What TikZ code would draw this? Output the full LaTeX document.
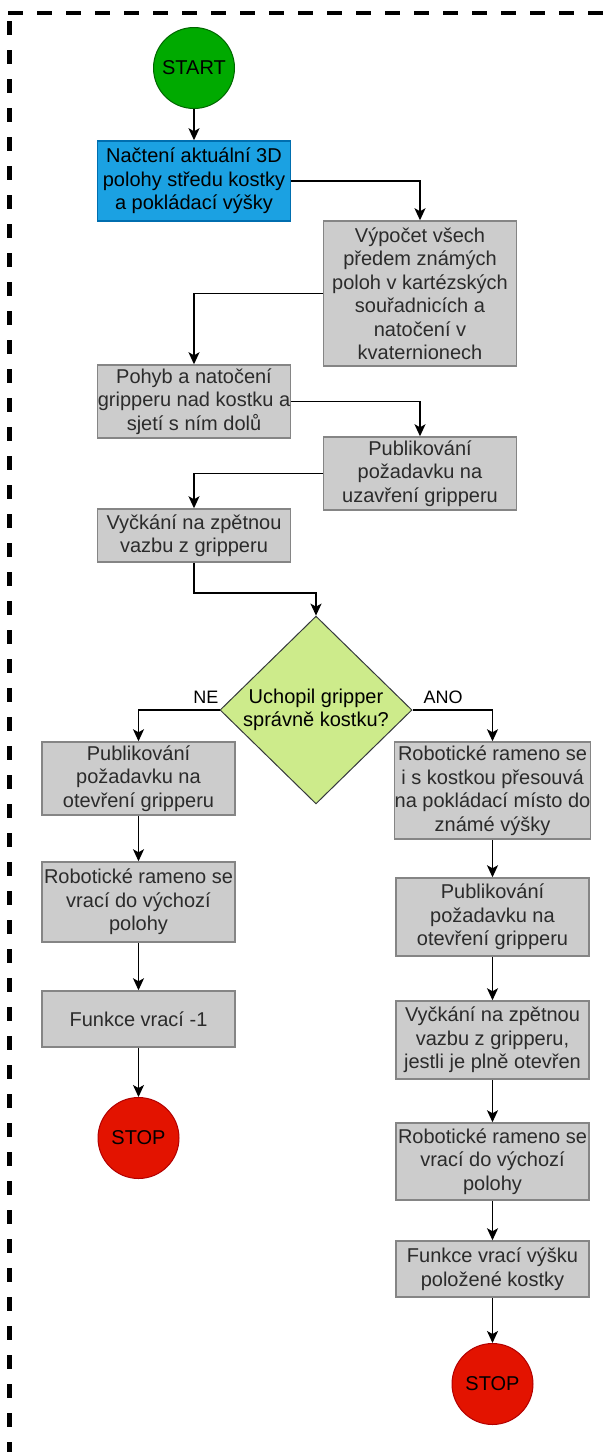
\documentclass[tikz,border=0pt]{standalone}
\usepackage{fontspec}
\setmainfont{Liberation Sans}
\usetikzlibrary{arrows.meta,shapes.geometric}
\definecolor{startgreen}{HTML}{00AA00}
\definecolor{startline}{HTML}{006600}
\definecolor{stopred}{HTML}{E31300}
\definecolor{stopline}{HTML}{B20000}
\definecolor{loadblue}{HTML}{1BA1E2}
\definecolor{loadline}{HTML}{006EAF}
\definecolor{boxgray}{HTML}{CCCCCC}
\definecolor{boxline}{HTML}{858585}
\definecolor{boxtext}{HTML}{2B2B2B}
\definecolor{askgreen}{HTML}{CDEB8B}
\definecolor{askline}{HTML}{36393D}

\begin{document}
\begin{tikzpicture}[x=1pt, y=-1pt,
    every node/.style={font=\fontsize{20}{23.5}\selectfont},
    box/.style={draw=boxline, fill=boxgray, line width=1.5pt, text=boxtext,
        align=center, minimum width=193pt, inner sep=0pt},
    term/.style={circle, line width=1pt, minimum size=81pt, inner sep=0pt},
    ask/.style={diamond, draw=askline, fill=askgreen, line width=1pt,
        align=center, minimum width=192pt, minimum height=180pt, inner sep=0pt},
    branch/.style={font=\fontsize{18}{22}\selectfont},
    flow/.style={-{Stealth[length=12pt, width=11pt, inset=3pt]}, line width=1.5pt}]
    \useasboundingbox (0,0) rectangle (607,1452);

    % Frame (dashed, cut at the top and the right)
    \draw[line width=4.5pt, dash pattern=on 15pt off 14pt] (8,13) -- (607,13);
    \draw[line width=4.5pt, dash pattern=on 14pt off 15pt] (9.5,21) -- (9.5,1452);

    % Start
    \node[term, draw=startline, fill=startgreen] (start) at (194,68) {START};

    % Upper part, two columns
    \node[box, draw=loadline, fill=loadblue, text=black, minimum height=80pt] (nacteni) at (194,181)
        {Načtení aktuální 3D\\polohy středu kostky\\a pokládací výšky};
    \node[box, minimum height=145pt] (vypocet) at (420,293.5)
        {Výpočet všech\\předem známých\\poloh v kartézských\\souřadnicích a\\natočení v\\kvaternionech};
    \node[box, minimum height=73pt] (pohyb) at (194,401.5)
        {Pohyb a natočení\\gripperu nad kostku a\\sjetí s ním dolů};
    \node[box, minimum height=73pt] (zavreni) at (420,473.5)
        {Publikování\\požadavku na\\uzavření gripperu};
    \node[box, minimum height=53pt] (cekani) at (194,535.5)
        {Vyčkání na zpětnou\\vazbu z gripperu};
    \coordinate (ohyb) at (316,593);

    % Decision
    \node[ask] (dotaz) at (316,710) {Uchopil gripper\\správně kostku?};
    \node[branch, anchor=base east] (ne) at (222,703) {NE};
    \node[branch, anchor=base west] (ano) at (420,703) {ANO};

    % Branch NE
    \node[box, minimum height=73pt] (otevritne) at (138.5,778.5)
        {Publikování\\požadavku na\\otevření gripperu};
    \node[box, minimum height=80pt] (navratne) at (138.5,902)
        {Robotické rameno se\\vrací do výchozí\\polohy};
    \node[box, minimum height=56pt] (chyba) at (138.5,1019) {Funkce vrací -1};
    \node[term, draw=stopline, fill=stopred] (stopne) at (138.5,1138) {STOP};

    % Branch ANO
    \node[box, minimum height=97pt] (presun) at (492.5,790.5)
        {Robotické rameno se\\i s kostkou přesouvá\\na pokládací místo do\\známé výšky};
    \node[box, minimum height=78pt] (otevrit) at (492.5,917)
        {Publikování\\požadavku na\\otevření gripperu};
    \node[box, minimum height=78pt] (cekaniano) at (492.5,1040)
        {Vyčkání na zpětnou\\vazbu z gripperu,\\jestli je plně otevřen};
    \node[box, minimum height=77pt] (navrat) at (492.5,1161.5)
        {Robotické rameno se\\vrací do výchozí\\polohy};
    \node[box, minimum height=56pt] (vyska) at (492.5,1269)
        {Funkce vrací výšku\\položené kostky};
    \node[term, draw=stopline, fill=stopred] (stopano) at (492.5,1384) {STOP};

    % Connectors
    \draw[flow] (start) -- (nacteni);
    \draw[flow] (nacteni.east) -| (vypocet.north);
    \draw[flow] (vypocet.west) -| (pohyb.north);
    \draw[flow] (pohyb.east) -| (zavreni.north);
    \draw[flow] (zavreni.west) -| (cekani.north);
    \draw[flow] (cekani.south) |- (ohyb) -- (dotaz.north);
    \draw[flow] (dotaz.west) -| (otevritne.north);
    \draw[flow] (dotaz.east) -| (presun.north);
    \draw[flow] (otevritne) -- (navratne);
    \draw[flow] (navratne) -- (chyba);
    \draw[flow] (chyba) -- (stopne);
    \draw[flow] (presun) -- (otevrit);
    \draw[flow] (otevrit) -- (cekaniano);
    \draw[flow] (cekaniano) -- (navrat);
    \draw[flow] (navrat) -- (vyska);
    \draw[flow] (vyska) -- (stopano);
\end{tikzpicture}
\end{document}
